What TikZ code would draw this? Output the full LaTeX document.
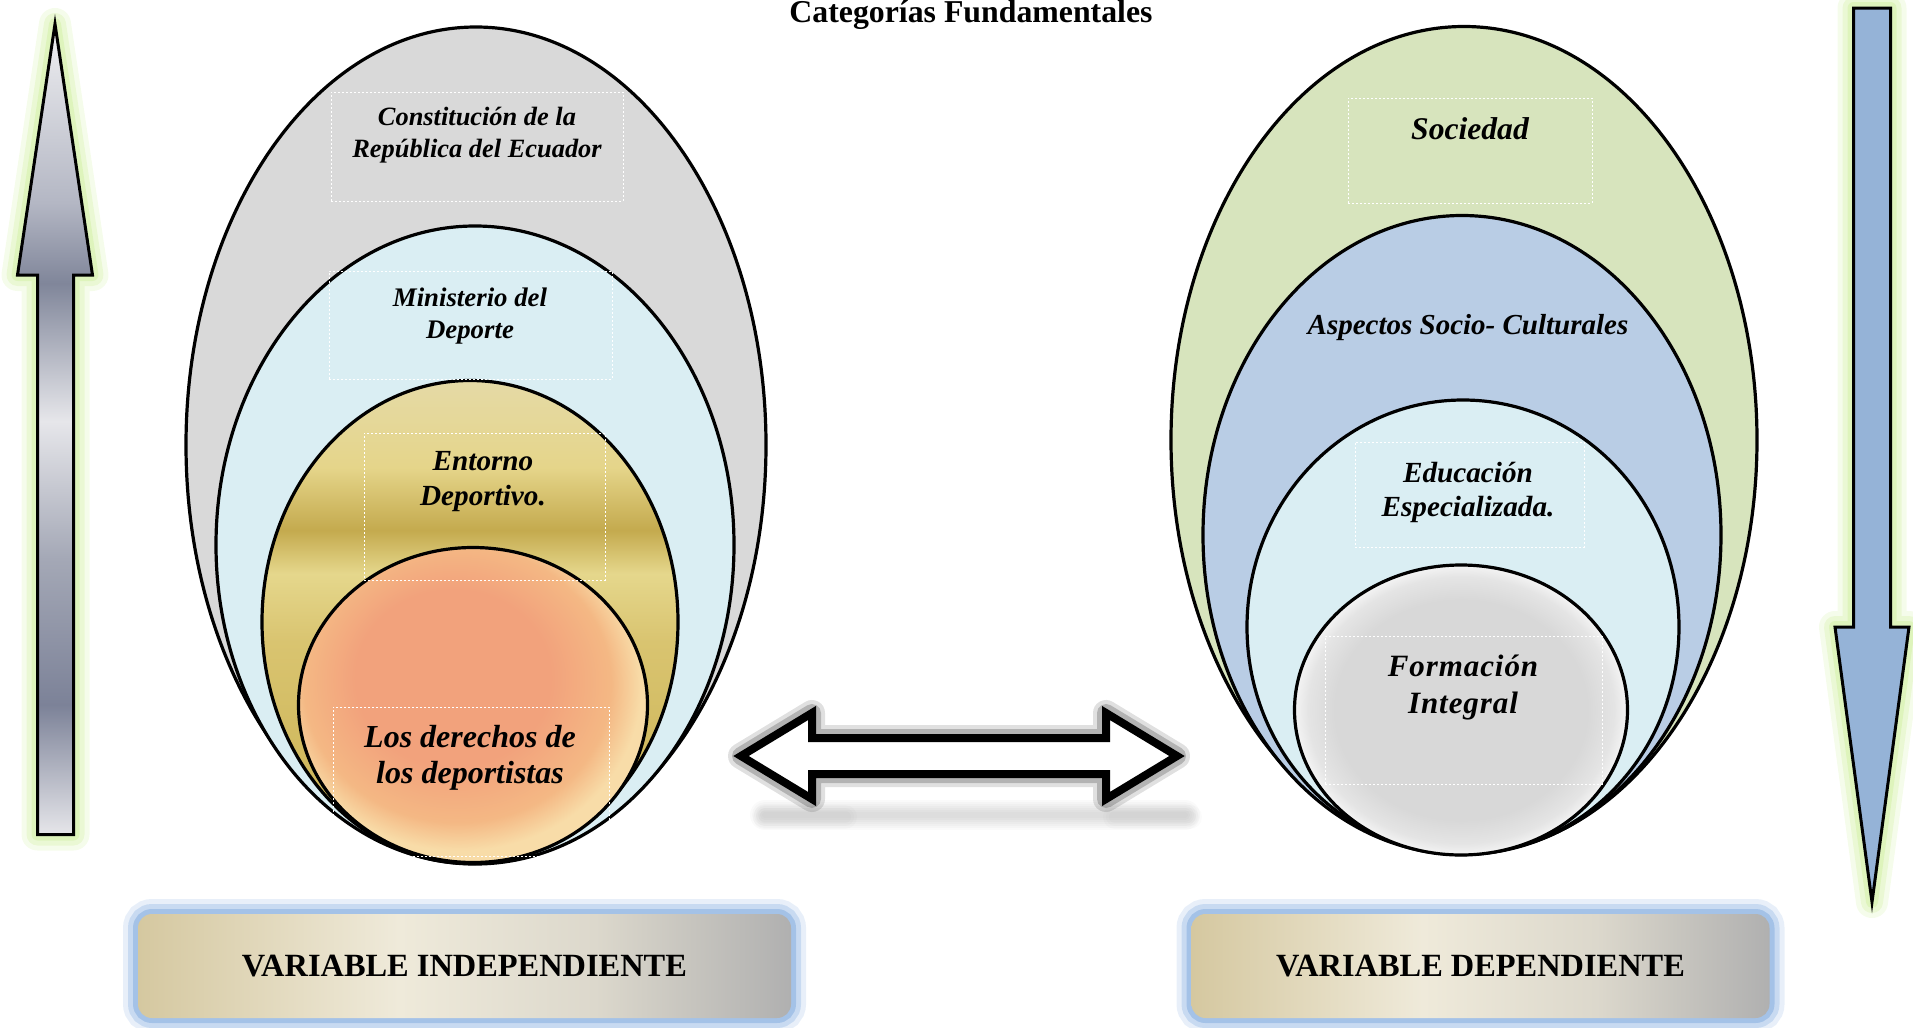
\documentclass[tikz,border=0pt]{standalone}
\usepackage{fontspec}
\setmainfont{Liberation Serif}
\usetikzlibrary{shapes.geometric}
\definecolor{cgray}{HTML}{D9D9D9}
\definecolor{clblue}{HTML}{DAEEF3}
\definecolor{cgreen}{HTML}{D7E4BD}
\definecolor{cblue}{HTML}{B9CDE5}
\definecolor{arrblue}{HTML}{95B3D7}
\definecolor{glowgreen}{HTML}{C8EC90}
\definecolor{glowblue}{HTML}{7FA9DE}
\definecolor{gdA}{HTML}{E5DAA6}
\definecolor{gdB}{HTML}{E5D58A}
\definecolor{gdC}{HTML}{C4AA4E}
\definecolor{gdD}{HTML}{E5D78C}
\definecolor{gdE}{HTML}{D9C470}
\definecolor{gdF}{HTML}{D0B95E}
\definecolor{gdG}{HTML}{C8AE52}
\definecolor{laA}{HTML}{F0F0F2}
\definecolor{laB}{HTML}{B4B7C4}
\definecolor{laC}{HTML}{80869A}
\definecolor{laD}{HTML}{E6E6EA}
\definecolor{laE}{HTML}{A4A8B6}
\definecolor{laF}{HTML}{7C8298}
\definecolor{orA}{HTML}{F2A27C}
\definecolor{orB}{HTML}{F4B884}
\definecolor{orC}{HTML}{F8DCA8}
\definecolor{bxA}{HTML}{D5C8A0}
\definecolor{bxB}{HTML}{EFEADA}
\definecolor{bxC}{HTML}{DCD8CC}
\definecolor{bxD}{HTML}{B0B0B0}
\definecolor{gbA}{HTML}{D8D8D8}
\definecolor{gbB}{HTML}{F4F4F4}
\pgfdeclareverticalshading{goldshade}{100bp}{color(0bp)=(gdG); color(25bp)=(gdG); color(35bp)=(gdF); color(48bp)=(gdE); color(55bp)=(gdD); color(59.5bp)=(gdC); color(66bp)=(gdB); color(75bp)=(gdA); color(100bp)=(gdA)}
\pgfdeclareverticalshading{lashade}{100bp}{color(0bp)=(laD); color(25bp)=(laD); color(33bp)=(laF); color(42bp)=(laE); color(50.5bp)=(laD); color(59bp)=(laC); color(64bp)=(laB); color(75bp)=(laA); color(100bp)=(laA)}
\pgfdeclarehorizontalshading{boxshade}{100bp}{color(0bp)=(bxA); color(25bp)=(bxA); color(45bp)=(bxB); color(60bp)=(bxC); color(75bp)=(bxD); color(100bp)=(bxD)}
\pgfdeclareradialshading{grayball}{\pgfpoint{0bp}{0bp}}{color(0bp)=(gbA); color(19bp)=(gbA); color(23bp)=(cgray!70!white); color(25bp)=(gbB); color(50bp)=(gbB)}
\pgfdeclareradialshading{orangeball}{\pgfpoint{-4bp}{6bp}}{color(0bp)=(orA); color(14bp)=(orA); color(22bp)=(orB); color(26bp)=(orC); color(50bp)=(orC)}
\tikzset{
  ring/.style={ellipse, draw=black, line width=1.6pt, inner sep=0pt},
  lbl/.style 2 args={font=\bfseries\itshape\fontsize{#1}{#2}\selectfont, align=center, inner sep=0pt},
  tbox/.style={draw=white, dash pattern=on 1pt off 1pt, line width=0.4pt, inner sep=0pt},
  greenglow/.style={preaction={draw=glowgreen, opacity=0.18, line width=16pt, line join=round},
                    preaction={draw=glowgreen, opacity=0.25, line width=11pt, line join=round},
                    preaction={draw=glowgreen, opacity=0.35, line width=6pt, line join=round}},
  varbox/.style={rounded corners=7pt, shade, shading=boxshade, inner sep=0pt,
                 font=\bfseries\fontsize{16.2}{19}\selectfont,
                 preaction={draw=glowblue, opacity=0.18, line width=15pt},
                 preaction={draw=glowblue, opacity=0.3, line width=10pt},
                 preaction={draw=glowblue, opacity=0.5, line width=5pt}},
}
\def\uparrowpath{(55,24) -- (92.5,275) -- (73.5,275) -- (73.5,834.5) -- (37.5,834.5) -- (37.5,275) -- (17.5,275) -- cycle}
\def\downarrowpath{(1853.5,8) -- (1890.5,8) -- (1890.5,627) -- (1909,627) -- (1872,902) -- (1835,627) -- (1853.5,627) -- cycle}
\def\dblarrowpath{(741,756) -- (812,713) -- (812,738) -- (1106,738) -- (1106,713) -- (1177,756) -- (1106,799) -- (1106,774) -- (812,774) -- (812,799) -- cycle}
\begin{document}
\begin{tikzpicture}[x=0.5pt, y=-0.5pt]
\useasboundingbox (0,0) rectangle (1913,1028);
% title
\node[font=\bfseries\fontsize{15.9}{19}\selectfont, anchor=base, inner sep=0pt] (title) at (971,23) {Categorías Fundamentales};
% side arrows
\shadedraw[shading=lashade, line width=1.5pt, greenglow] \uparrowpath;
\filldraw[fill=arrblue, line width=1.5pt, greenglow] \downarrowpath;
% left group
\node[ring, fill=cgray, minimum width=290pt, minimum height=418pt] (e1) at (476,445) {};
\node[ring, fill=clblue, minimum width=259pt, minimum height=319pt] (e2) at (475,545) {};
\node[ring, shade, shading=goldshade, minimum width=208pt, minimum height=241.5pt] (e3) at (470,622) {};
\node[ring, shade, shading=orangeball, minimum width=174.5pt, minimum height=157.5pt] (e4) at (473,705) {};
\node[tbox, minimum width=146pt, minimum height=54.5pt] (b1) at (477,146.5) {};
\node[tbox, minimum width=141.5pt, minimum height=54pt] (b2) at (470.5,325) {};
\node[tbox, minimum width=120.5pt, minimum height=73.5pt] (b3) at (484.5,506.5) {};
\node[tbox, minimum width=138pt, minimum height=74.5pt] (b4) at (471,781.5) {};
\node[lbl={13.2}{16}] (t1) at (477,135.5) {Constitución de la\\República del Ecuador};
\node[lbl={13.4}{16}] (t2) at (470,316) {Ministerio del\\Deporte};
\node[lbl={14.6}{17.5}] (t3) at (483,482) {Entorno\\Deportivo.};
\node[lbl={16}{18.2}] (t4) at (470,757.5) {Los derechos de\\los deportistas};
% right group
\node[ring, fill=cgreen, minimum width=293pt, minimum height=413.5pt] (f1) at (1464,440) {};
\node[ring, fill=cblue, minimum width=259pt, minimum height=319.5pt] (f2) at (1462,535) {};
\node[ring, fill=clblue, minimum width=216pt, minimum height=227pt] (f3) at (1463,627) {};
\node[ring, shade, shading=grayball, minimum width=166.5pt, minimum height=145pt] (f4) at (1461,710) {};
\node[tbox, minimum width=122pt, minimum height=52.5pt] (b5) at (1470,150.5) {};
\node[tbox, minimum width=114.5pt, minimum height=52.5pt] (b6) at (1469.5,494.5) {};
\node[tbox, minimum width=138.5pt, minimum height=74pt] (b7) at (1463.5,710) {};
\node[lbl={15.8}{18}] (t5) at (1470,129) {Sociedad};
\node[lbl={14.5}{17}] (t6) at (1468,327.5) {Aspectos Socio- Culturales};
\node[lbl={14.6}{17}] (t7) at (1468,492) {Educación\\Especializada.};
\node[lbl={15.5}{18.8}, font=\bfseries\itshape\fontsize{15.5}{18.8}\selectfont\addfontfeature{LetterSpace=3}] (t8) at (1463,687.5) {Formación\\Integral};
% double arrow shadow and arrow
\foreach \w in {15,13,11,9,7,5,3} {
  \draw[black, opacity=0.02, line width=\w pt, line cap=round] (765,815) -- (1185,815);
}
\foreach \w in {12,9,6} {
  \draw[black, opacity=0.015, line width=\w pt, line cap=round] (765,817) -- (845,817);
  \draw[black, opacity=0.015, line width=\w pt, line cap=round] (1115,817) -- (1190,817);
}
\filldraw[fill=white, line width=4pt, line join=miter,
  preaction={draw=black, opacity=0.12, line width=13pt, line join=round},
  preaction={draw=black, opacity=0.2, line width=9pt, line join=round}] \dblarrowpath;
% variable boxes
\node[varbox, minimum width=326.5pt, minimum height=52pt] (v1) at (464.5,966) {VARIABLE INDEPENDIENTE};
\node[varbox, minimum width=289pt, minimum height=52pt] (v2) at (1480.5,966) {VARIABLE DEPENDIENTE};
\end{tikzpicture}
\end{document}
